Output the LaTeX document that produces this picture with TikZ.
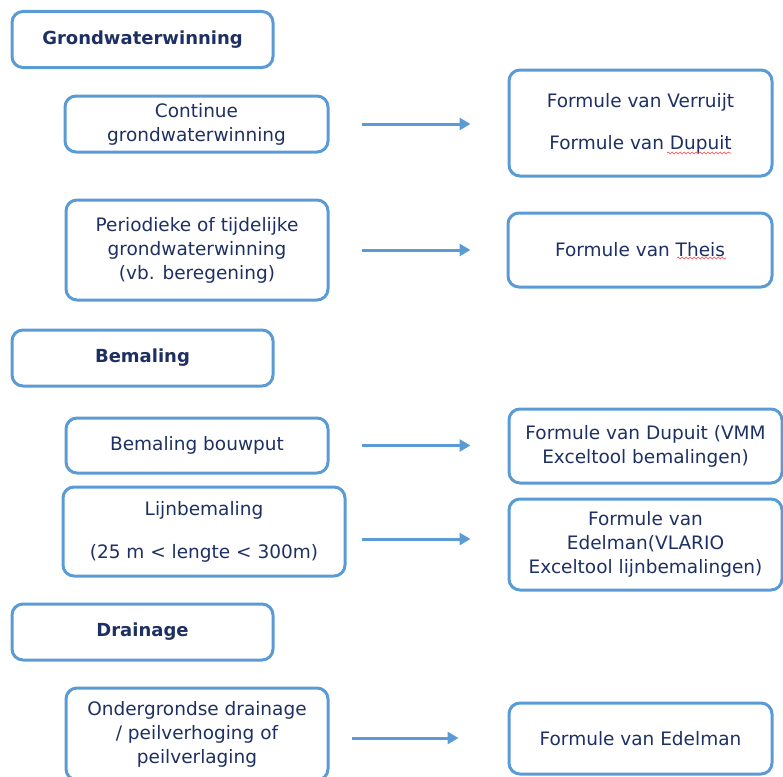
\documentclass[tikz,border=0pt]{standalone}
\usepackage{fontspec}
\setmainfont{DejaVu Sans}
\usepackage{xcolor}
\usetikzlibrary{arrows.meta}
\usetikzlibrary{decorations.pathmorphing}
\definecolor{kaderblauw}{RGB}{91,155,213}
\definecolor{tekstblauw}{RGB}{30,48,98}
\tikzset{
	kader/.style={
			draw=kaderblauw, line width=3pt, rounded corners=11pt,
			align=center, text=tekstblauw, inner sep=0pt,
			font=\fontsize{18.5}{24}\selectfont
		},
	kop/.style={
			kader, font=\bfseries\fontsize{18}{24}\selectfont,
			minimum width=261pt, minimum height=56pt
		},
	pijl/.style={draw=kaderblauw, line width=3pt, -{Triangle[length=11pt,width=12pt]}},
	kronkel/.style={draw=red!75, line width=0.6pt, decorate,
			decoration={snake, amplitude=1pt, segment length=4pt}}
}

\begin{document}
\begin{tikzpicture}[x=1pt,y=-1pt]
		\useasboundingbox (0,0) rectangle (783,776);
		\clip (0,0) rectangle (783,776);
		% grondwaterwinning
		\node[kop] (kopGrond) at (142.5,39.5) {Grondwaterwinning};
		\node[kader, minimum width=263pt, minimum height=56pt] (continu) at (196.5,124) {Continue\\grondwaterwinning};
		\node[kader, minimum width=263pt, minimum height=106pt] (verruijt) at (640.5,123) {Formule van Verruijt\\[18pt]Formule van Dupuit};
		\node[kader, minimum width=262pt, minimum height=100pt] (periodiek) at (197,250) {Periodieke of tijdelijke\\grondwaterwinning\\(vb. beregening)};
		\node[kader, minimum width=264pt, minimum height=74pt] (theis) at (640,250) {Formule van Theis};
		\draw[pijl] ([xshift=32pt]continu.east) -- ([xshift=-37pt]continu.east -| verruijt.west);
		\draw[pijl] ([xshift=32pt]periodiek.east) -- ([xshift=-36pt]periodiek.east -| theis.west);
		\draw[kronkel] (667,153) -- (731,153);
		\draw[kronkel] (677,258) -- (726,258);
		% bemaling
		\node[kop] (kopBemaling) at (142.5,358) {Bemaling};
		\node[kader, minimum width=262pt, minimum height=55pt] (bouwput) at (197,445.5) {Bemaling bouwput};
		\node[kader, minimum width=273pt, minimum height=74pt] (vmm) at (645.5,446) {Formule van Dupuit (VMM\\Exceltool bemalingen)};
		\node[kader, minimum width=282pt, minimum height=89pt] (lijn) at (204,531.5) {Lijnbemaling\\[19pt](25 m < lengte < 300m)};
		\node[kader, minimum width=273pt, minimum height=91pt] (vlario) at (645.5,544.5) {Formule van\\Edelman(VLARIO\\Exceltool lijnbemalingen)};
		\draw[pijl] ([xshift=32pt]bouwput.east) -- ([xshift=-37pt]bouwput.east -| vmm.west);
		\draw[pijl] ([xshift=15pt,yshift=-7.5pt]lijn.east) -- ([xshift=-37pt,yshift=-7.5pt]lijn.east -| vlario.west);
		% drainage
		\node[kop] (kopDrainage) at (142.5,632) {Drainage};
		\node[kader, minimum width=262pt, minimum height=92pt] (onder) at (197,734) {Ondergrondse drainage\\/ peilverhoging of\\peilverlaging};
		\node[kader, minimum width=263pt, minimum height=71pt] (edelman) at (640.5,738.5) {Formule van Edelman};
		\draw[pijl] ([xshift=22pt,yshift=-4pt]onder.east) -- ([xshift=-49pt,yshift=-4pt]onder.east -| edelman.west);
	\end{tikzpicture}
\end{document}
